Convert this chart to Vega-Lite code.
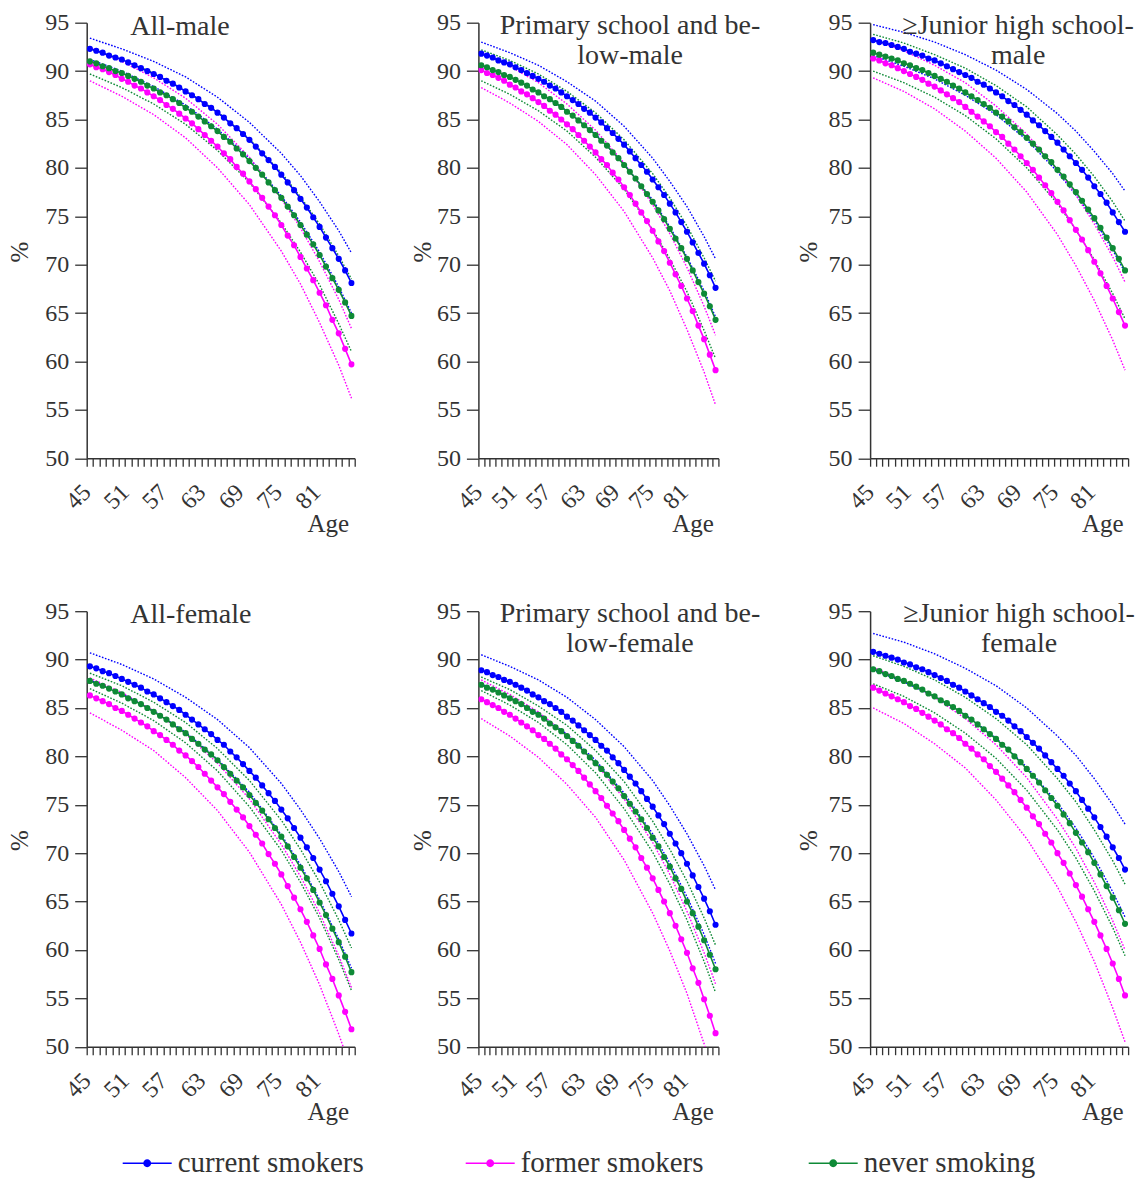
{
"$schema": "https://vega.github.io/schema/vega-lite/v6.json",
"autosize": {"type": "none"},
"padding": {"left": 86.7, "top": 22.7, "right": 1061.3, "bottom": 1155.3},
"background": "white",
"datasets": {
"est": [
{"p":1,"g":"c","a":45,"v":92.3},{"p":1,"g":"c","a":46,"v":92.1},{"p":1,"g":"c","a":47,"v":91.9},{"p":1,"g":"c","a":48,"v":91.6},{"p":1,"g":"c","a":49,"v":91.4},{"p":1,"g":"c","a":50,"v":91.2},{"p":1,"g":"c","a":51,"v":90.9},{"p":1,"g":"c","a":52,"v":90.6},{"p":1,"g":"c","a":53,"v":90.3},{"p":1,"g":"c","a":54,"v":90.0},{"p":1,"g":"c","a":55,"v":89.7},{"p":1,"g":"c","a":56,"v":89.4},{"p":1,"g":"c","a":57,"v":89.0},{"p":1,"g":"c","a":58,"v":88.7},{"p":1,"g":"c","a":59,"v":88.3},{"p":1,"g":"c","a":60,"v":87.9},{"p":1,"g":"c","a":61,"v":87.5},{"p":1,"g":"c","a":62,"v":87.1},{"p":1,"g":"c","a":63,"v":86.6},{"p":1,"g":"c","a":64,"v":86.2},{"p":1,"g":"c","a":65,"v":85.7},{"p":1,"g":"c","a":66,"v":85.2},{"p":1,"g":"c","a":67,"v":84.6},{"p":1,"g":"c","a":68,"v":84.1},{"p":1,"g":"c","a":69,"v":83.5},{"p":1,"g":"c","a":70,"v":82.9},{"p":1,"g":"c","a":71,"v":82.2},{"p":1,"g":"c","a":72,"v":81.5},{"p":1,"g":"c","a":73,"v":80.8},{"p":1,"g":"c","a":74,"v":80.1},{"p":1,"g":"c","a":75,"v":79.3},{"p":1,"g":"c","a":76,"v":78.5},{"p":1,"g":"c","a":77,"v":77.7},{"p":1,"g":"c","a":78,"v":76.8},{"p":1,"g":"c","a":79,"v":75.9},{"p":1,"g":"c","a":80,"v":74.9},{"p":1,"g":"c","a":81,"v":73.9},{"p":1,"g":"c","a":82,"v":72.8},{"p":1,"g":"c","a":83,"v":71.7},{"p":1,"g":"c","a":84,"v":70.6},{"p":1,"g":"c","a":85,"v":69.4},{"p":1,"g":"c","a":86,"v":68.1},
{"p":1,"g":"f","a":45,"v":90.7},{"p":1,"g":"f","a":46,"v":90.4},{"p":1,"g":"f","a":47,"v":90.2},{"p":1,"g":"f","a":48,"v":89.9},{"p":1,"g":"f","a":49,"v":89.6},{"p":1,"g":"f","a":50,"v":89.2},{"p":1,"g":"f","a":51,"v":88.9},{"p":1,"g":"f","a":52,"v":88.5},{"p":1,"g":"f","a":53,"v":88.2},{"p":1,"g":"f","a":54,"v":87.8},{"p":1,"g":"f","a":55,"v":87.4},{"p":1,"g":"f","a":56,"v":87.0},{"p":1,"g":"f","a":57,"v":86.5},{"p":1,"g":"f","a":58,"v":86.1},{"p":1,"g":"f","a":59,"v":85.6},{"p":1,"g":"f","a":60,"v":85.1},{"p":1,"g":"f","a":61,"v":84.6},{"p":1,"g":"f","a":62,"v":84.0},{"p":1,"g":"f","a":63,"v":83.4},{"p":1,"g":"f","a":64,"v":82.8},{"p":1,"g":"f","a":65,"v":82.2},{"p":1,"g":"f","a":66,"v":81.5},{"p":1,"g":"f","a":67,"v":80.9},{"p":1,"g":"f","a":68,"v":80.1},{"p":1,"g":"f","a":69,"v":79.4},{"p":1,"g":"f","a":70,"v":78.6},{"p":1,"g":"f","a":71,"v":77.8},{"p":1,"g":"f","a":72,"v":76.9},{"p":1,"g":"f","a":73,"v":76.0},{"p":1,"g":"f","a":74,"v":75.1},{"p":1,"g":"f","a":75,"v":74.1},{"p":1,"g":"f","a":76,"v":73.0},{"p":1,"g":"f","a":77,"v":72.0},{"p":1,"g":"f","a":78,"v":70.8},{"p":1,"g":"f","a":79,"v":69.6},{"p":1,"g":"f","a":80,"v":68.4},{"p":1,"g":"f","a":81,"v":67.1},{"p":1,"g":"f","a":82,"v":65.8},{"p":1,"g":"f","a":83,"v":64.3},{"p":1,"g":"f","a":84,"v":62.9},{"p":1,"g":"f","a":85,"v":61.3},{"p":1,"g":"f","a":86,"v":59.7},
{"p":1,"g":"n","a":45,"v":91.0},{"p":1,"g":"n","a":46,"v":90.8},{"p":1,"g":"n","a":47,"v":90.5},{"p":1,"g":"n","a":48,"v":90.3},{"p":1,"g":"n","a":49,"v":90.0},{"p":1,"g":"n","a":50,"v":89.8},{"p":1,"g":"n","a":51,"v":89.5},{"p":1,"g":"n","a":52,"v":89.2},{"p":1,"g":"n","a":53,"v":88.9},{"p":1,"g":"n","a":54,"v":88.5},{"p":1,"g":"n","a":55,"v":88.2},{"p":1,"g":"n","a":56,"v":87.8},{"p":1,"g":"n","a":57,"v":87.5},{"p":1,"g":"n","a":58,"v":87.1},{"p":1,"g":"n","a":59,"v":86.7},{"p":1,"g":"n","a":60,"v":86.2},{"p":1,"g":"n","a":61,"v":85.8},{"p":1,"g":"n","a":62,"v":85.3},{"p":1,"g":"n","a":63,"v":84.8},{"p":1,"g":"n","a":64,"v":84.3},{"p":1,"g":"n","a":65,"v":83.8},{"p":1,"g":"n","a":66,"v":83.2},{"p":1,"g":"n","a":67,"v":82.7},{"p":1,"g":"n","a":68,"v":82.0},{"p":1,"g":"n","a":69,"v":81.4},{"p":1,"g":"n","a":70,"v":80.7},{"p":1,"g":"n","a":71,"v":80.0},{"p":1,"g":"n","a":72,"v":79.3},{"p":1,"g":"n","a":73,"v":78.5},{"p":1,"g":"n","a":74,"v":77.7},{"p":1,"g":"n","a":75,"v":76.9},{"p":1,"g":"n","a":76,"v":76.0},{"p":1,"g":"n","a":77,"v":75.1},{"p":1,"g":"n","a":78,"v":74.1},{"p":1,"g":"n","a":79,"v":73.1},{"p":1,"g":"n","a":80,"v":72.1},{"p":1,"g":"n","a":81,"v":71.0},{"p":1,"g":"n","a":82,"v":69.8},{"p":1,"g":"n","a":83,"v":68.6},{"p":1,"g":"n","a":84,"v":67.4},{"p":1,"g":"n","a":85,"v":66.1},{"p":1,"g":"n","a":86,"v":64.7},
{"p":2,"g":"c","a":45,"v":91.8},{"p":2,"g":"c","a":46,"v":91.6},{"p":2,"g":"c","a":47,"v":91.4},{"p":2,"g":"c","a":48,"v":91.1},{"p":2,"g":"c","a":49,"v":90.9},{"p":2,"g":"c","a":50,"v":90.7},{"p":2,"g":"c","a":51,"v":90.4},{"p":2,"g":"c","a":52,"v":90.1},{"p":2,"g":"c","a":53,"v":89.8},{"p":2,"g":"c","a":54,"v":89.5},{"p":2,"g":"c","a":55,"v":89.2},{"p":2,"g":"c","a":56,"v":88.9},{"p":2,"g":"c","a":57,"v":88.5},{"p":2,"g":"c","a":58,"v":88.2},{"p":2,"g":"c","a":59,"v":87.8},{"p":2,"g":"c","a":60,"v":87.4},{"p":2,"g":"c","a":61,"v":87.0},{"p":2,"g":"c","a":62,"v":86.6},{"p":2,"g":"c","a":63,"v":86.1},{"p":2,"g":"c","a":64,"v":85.7},{"p":2,"g":"c","a":65,"v":85.2},{"p":2,"g":"c","a":66,"v":84.7},{"p":2,"g":"c","a":67,"v":84.1},{"p":2,"g":"c","a":68,"v":83.6},{"p":2,"g":"c","a":69,"v":83.0},{"p":2,"g":"c","a":70,"v":82.4},{"p":2,"g":"c","a":71,"v":81.7},{"p":2,"g":"c","a":72,"v":81.0},{"p":2,"g":"c","a":73,"v":80.3},{"p":2,"g":"c","a":74,"v":79.6},{"p":2,"g":"c","a":75,"v":78.8},{"p":2,"g":"c","a":76,"v":78.0},{"p":2,"g":"c","a":77,"v":77.2},{"p":2,"g":"c","a":78,"v":76.3},{"p":2,"g":"c","a":79,"v":75.4},{"p":2,"g":"c","a":80,"v":74.4},{"p":2,"g":"c","a":81,"v":73.4},{"p":2,"g":"c","a":82,"v":72.3},{"p":2,"g":"c","a":83,"v":71.2},{"p":2,"g":"c","a":84,"v":70.1},{"p":2,"g":"c","a":85,"v":68.9},{"p":2,"g":"c","a":86,"v":67.6},
{"p":2,"g":"f","a":45,"v":90.1},{"p":2,"g":"f","a":46,"v":89.8},{"p":2,"g":"f","a":47,"v":89.6},{"p":2,"g":"f","a":48,"v":89.3},{"p":2,"g":"f","a":49,"v":89.0},{"p":2,"g":"f","a":50,"v":88.6},{"p":2,"g":"f","a":51,"v":88.3},{"p":2,"g":"f","a":52,"v":87.9},{"p":2,"g":"f","a":53,"v":87.6},{"p":2,"g":"f","a":54,"v":87.2},{"p":2,"g":"f","a":55,"v":86.8},{"p":2,"g":"f","a":56,"v":86.4},{"p":2,"g":"f","a":57,"v":85.9},{"p":2,"g":"f","a":58,"v":85.5},{"p":2,"g":"f","a":59,"v":85.0},{"p":2,"g":"f","a":60,"v":84.5},{"p":2,"g":"f","a":61,"v":84.0},{"p":2,"g":"f","a":62,"v":83.4},{"p":2,"g":"f","a":63,"v":82.8},{"p":2,"g":"f","a":64,"v":82.2},{"p":2,"g":"f","a":65,"v":81.6},{"p":2,"g":"f","a":66,"v":80.9},{"p":2,"g":"f","a":67,"v":80.3},{"p":2,"g":"f","a":68,"v":79.5},{"p":2,"g":"f","a":69,"v":78.8},{"p":2,"g":"f","a":70,"v":78.0},{"p":2,"g":"f","a":71,"v":77.2},{"p":2,"g":"f","a":72,"v":76.3},{"p":2,"g":"f","a":73,"v":75.4},{"p":2,"g":"f","a":74,"v":74.5},{"p":2,"g":"f","a":75,"v":73.5},{"p":2,"g":"f","a":76,"v":72.4},{"p":2,"g":"f","a":77,"v":71.4},{"p":2,"g":"f","a":78,"v":70.2},{"p":2,"g":"f","a":79,"v":69.0},{"p":2,"g":"f","a":80,"v":67.8},{"p":2,"g":"f","a":81,"v":66.5},{"p":2,"g":"f","a":82,"v":65.2},{"p":2,"g":"f","a":83,"v":63.7},{"p":2,"g":"f","a":84,"v":62.3},{"p":2,"g":"f","a":85,"v":60.7},{"p":2,"g":"f","a":86,"v":59.1},
{"p":2,"g":"n","a":45,"v":90.6},{"p":2,"g":"n","a":46,"v":90.4},{"p":2,"g":"n","a":47,"v":90.1},{"p":2,"g":"n","a":48,"v":89.9},{"p":2,"g":"n","a":49,"v":89.6},{"p":2,"g":"n","a":50,"v":89.4},{"p":2,"g":"n","a":51,"v":89.1},{"p":2,"g":"n","a":52,"v":88.8},{"p":2,"g":"n","a":53,"v":88.5},{"p":2,"g":"n","a":54,"v":88.1},{"p":2,"g":"n","a":55,"v":87.8},{"p":2,"g":"n","a":56,"v":87.4},{"p":2,"g":"n","a":57,"v":87.1},{"p":2,"g":"n","a":58,"v":86.7},{"p":2,"g":"n","a":59,"v":86.3},{"p":2,"g":"n","a":60,"v":85.8},{"p":2,"g":"n","a":61,"v":85.4},{"p":2,"g":"n","a":62,"v":84.9},{"p":2,"g":"n","a":63,"v":84.4},{"p":2,"g":"n","a":64,"v":83.9},{"p":2,"g":"n","a":65,"v":83.4},{"p":2,"g":"n","a":66,"v":82.8},{"p":2,"g":"n","a":67,"v":82.3},{"p":2,"g":"n","a":68,"v":81.6},{"p":2,"g":"n","a":69,"v":81.0},{"p":2,"g":"n","a":70,"v":80.3},{"p":2,"g":"n","a":71,"v":79.6},{"p":2,"g":"n","a":72,"v":78.9},{"p":2,"g":"n","a":73,"v":78.1},{"p":2,"g":"n","a":74,"v":77.3},{"p":2,"g":"n","a":75,"v":76.5},{"p":2,"g":"n","a":76,"v":75.6},{"p":2,"g":"n","a":77,"v":74.7},{"p":2,"g":"n","a":78,"v":73.7},{"p":2,"g":"n","a":79,"v":72.7},{"p":2,"g":"n","a":80,"v":71.7},{"p":2,"g":"n","a":81,"v":70.6},{"p":2,"g":"n","a":82,"v":69.4},{"p":2,"g":"n","a":83,"v":68.2},{"p":2,"g":"n","a":84,"v":67.0},{"p":2,"g":"n","a":85,"v":65.7},{"p":2,"g":"n","a":86,"v":64.3},
{"p":3,"g":"c","a":45,"v":93.2},{"p":3,"g":"c","a":46,"v":93.0},{"p":3,"g":"c","a":47,"v":92.9},{"p":3,"g":"c","a":48,"v":92.7},{"p":3,"g":"c","a":49,"v":92.5},{"p":3,"g":"c","a":50,"v":92.3},{"p":3,"g":"c","a":51,"v":92.0},{"p":3,"g":"c","a":52,"v":91.8},{"p":3,"g":"c","a":53,"v":91.6},{"p":3,"g":"c","a":54,"v":91.3},{"p":3,"g":"c","a":55,"v":91.1},{"p":3,"g":"c","a":56,"v":90.8},{"p":3,"g":"c","a":57,"v":90.5},{"p":3,"g":"c","a":58,"v":90.2},{"p":3,"g":"c","a":59,"v":89.9},{"p":3,"g":"c","a":60,"v":89.6},{"p":3,"g":"c","a":61,"v":89.3},{"p":3,"g":"c","a":62,"v":88.9},{"p":3,"g":"c","a":63,"v":88.6},{"p":3,"g":"c","a":64,"v":88.2},{"p":3,"g":"c","a":65,"v":87.8},{"p":3,"g":"c","a":66,"v":87.4},{"p":3,"g":"c","a":67,"v":86.9},{"p":3,"g":"c","a":68,"v":86.5},{"p":3,"g":"c","a":69,"v":86.0},{"p":3,"g":"c","a":70,"v":85.5},{"p":3,"g":"c","a":71,"v":84.9},{"p":3,"g":"c","a":72,"v":84.4},{"p":3,"g":"c","a":73,"v":83.8},{"p":3,"g":"c","a":74,"v":83.2},{"p":3,"g":"c","a":75,"v":82.6},{"p":3,"g":"c","a":76,"v":81.9},{"p":3,"g":"c","a":77,"v":81.2},{"p":3,"g":"c","a":78,"v":80.5},{"p":3,"g":"c","a":79,"v":79.8},{"p":3,"g":"c","a":80,"v":79.0},{"p":3,"g":"c","a":81,"v":78.1},{"p":3,"g":"c","a":82,"v":77.3},{"p":3,"g":"c","a":83,"v":76.4},{"p":3,"g":"c","a":84,"v":75.4},{"p":3,"g":"c","a":85,"v":74.4},{"p":3,"g":"c","a":86,"v":73.4},
{"p":3,"g":"f","a":45,"v":91.3},{"p":3,"g":"f","a":46,"v":91.1},{"p":3,"g":"f","a":47,"v":90.8},{"p":3,"g":"f","a":48,"v":90.6},{"p":3,"g":"f","a":49,"v":90.3},{"p":3,"g":"f","a":50,"v":90.0},{"p":3,"g":"f","a":51,"v":89.7},{"p":3,"g":"f","a":52,"v":89.4},{"p":3,"g":"f","a":53,"v":89.1},{"p":3,"g":"f","a":54,"v":88.7},{"p":3,"g":"f","a":55,"v":88.4},{"p":3,"g":"f","a":56,"v":88.0},{"p":3,"g":"f","a":57,"v":87.6},{"p":3,"g":"f","a":58,"v":87.2},{"p":3,"g":"f","a":59,"v":86.8},{"p":3,"g":"f","a":60,"v":86.3},{"p":3,"g":"f","a":61,"v":85.8},{"p":3,"g":"f","a":62,"v":85.3},{"p":3,"g":"f","a":63,"v":84.8},{"p":3,"g":"f","a":64,"v":84.3},{"p":3,"g":"f","a":65,"v":83.7},{"p":3,"g":"f","a":66,"v":83.2},{"p":3,"g":"f","a":67,"v":82.5},{"p":3,"g":"f","a":68,"v":81.9},{"p":3,"g":"f","a":69,"v":81.2},{"p":3,"g":"f","a":70,"v":80.5},{"p":3,"g":"f","a":71,"v":79.8},{"p":3,"g":"f","a":72,"v":79.0},{"p":3,"g":"f","a":73,"v":78.2},{"p":3,"g":"f","a":74,"v":77.4},{"p":3,"g":"f","a":75,"v":76.5},{"p":3,"g":"f","a":76,"v":75.6},{"p":3,"g":"f","a":77,"v":74.6},{"p":3,"g":"f","a":78,"v":73.6},{"p":3,"g":"f","a":79,"v":72.6},{"p":3,"g":"f","a":80,"v":71.5},{"p":3,"g":"f","a":81,"v":70.3},{"p":3,"g":"f","a":82,"v":69.1},{"p":3,"g":"f","a":83,"v":67.8},{"p":3,"g":"f","a":84,"v":66.5},{"p":3,"g":"f","a":85,"v":65.1},{"p":3,"g":"f","a":86,"v":63.7},
{"p":3,"g":"n","a":45,"v":91.9},{"p":3,"g":"n","a":46,"v":91.7},{"p":3,"g":"n","a":47,"v":91.5},{"p":3,"g":"n","a":48,"v":91.3},{"p":3,"g":"n","a":49,"v":91.1},{"p":3,"g":"n","a":50,"v":90.8},{"p":3,"g":"n","a":51,"v":90.6},{"p":3,"g":"n","a":52,"v":90.3},{"p":3,"g":"n","a":53,"v":90.1},{"p":3,"g":"n","a":54,"v":89.8},{"p":3,"g":"n","a":55,"v":89.5},{"p":3,"g":"n","a":56,"v":89.2},{"p":3,"g":"n","a":57,"v":88.9},{"p":3,"g":"n","a":58,"v":88.5},{"p":3,"g":"n","a":59,"v":88.2},{"p":3,"g":"n","a":60,"v":87.8},{"p":3,"g":"n","a":61,"v":87.4},{"p":3,"g":"n","a":62,"v":87.0},{"p":3,"g":"n","a":63,"v":86.6},{"p":3,"g":"n","a":64,"v":86.2},{"p":3,"g":"n","a":65,"v":85.7},{"p":3,"g":"n","a":66,"v":85.3},{"p":3,"g":"n","a":67,"v":84.8},{"p":3,"g":"n","a":68,"v":84.2},{"p":3,"g":"n","a":69,"v":83.7},{"p":3,"g":"n","a":70,"v":83.1},{"p":3,"g":"n","a":71,"v":82.5},{"p":3,"g":"n","a":72,"v":81.9},{"p":3,"g":"n","a":73,"v":81.2},{"p":3,"g":"n","a":74,"v":80.6},{"p":3,"g":"n","a":75,"v":79.8},{"p":3,"g":"n","a":76,"v":79.1},{"p":3,"g":"n","a":77,"v":78.3},{"p":3,"g":"n","a":78,"v":77.5},{"p":3,"g":"n","a":79,"v":76.6},{"p":3,"g":"n","a":80,"v":75.7},{"p":3,"g":"n","a":81,"v":74.8},{"p":3,"g":"n","a":82,"v":73.8},{"p":3,"g":"n","a":83,"v":72.8},{"p":3,"g":"n","a":84,"v":71.7},{"p":3,"g":"n","a":85,"v":70.6},{"p":3,"g":"n","a":86,"v":69.4},
{"p":4,"g":"c","a":45,"v":89.3},{"p":4,"g":"c","a":46,"v":89.1},{"p":4,"g":"c","a":47,"v":88.8},{"p":4,"g":"c","a":48,"v":88.6},{"p":4,"g":"c","a":49,"v":88.3},{"p":4,"g":"c","a":50,"v":88.0},{"p":4,"g":"c","a":51,"v":87.7},{"p":4,"g":"c","a":52,"v":87.4},{"p":4,"g":"c","a":53,"v":87.1},{"p":4,"g":"c","a":54,"v":86.7},{"p":4,"g":"c","a":55,"v":86.4},{"p":4,"g":"c","a":56,"v":86.0},{"p":4,"g":"c","a":57,"v":85.6},{"p":4,"g":"c","a":58,"v":85.2},{"p":4,"g":"c","a":59,"v":84.8},{"p":4,"g":"c","a":60,"v":84.3},{"p":4,"g":"c","a":61,"v":83.8},{"p":4,"g":"c","a":62,"v":83.3},{"p":4,"g":"c","a":63,"v":82.8},{"p":4,"g":"c","a":64,"v":82.3},{"p":4,"g":"c","a":65,"v":81.7},{"p":4,"g":"c","a":66,"v":81.2},{"p":4,"g":"c","a":67,"v":80.5},{"p":4,"g":"c","a":68,"v":79.9},{"p":4,"g":"c","a":69,"v":79.2},{"p":4,"g":"c","a":70,"v":78.5},{"p":4,"g":"c","a":71,"v":77.8},{"p":4,"g":"c","a":72,"v":77.0},{"p":4,"g":"c","a":73,"v":76.2},{"p":4,"g":"c","a":74,"v":75.4},{"p":4,"g":"c","a":75,"v":74.5},{"p":4,"g":"c","a":76,"v":73.6},{"p":4,"g":"c","a":77,"v":72.6},{"p":4,"g":"c","a":78,"v":71.6},{"p":4,"g":"c","a":79,"v":70.6},{"p":4,"g":"c","a":80,"v":69.5},{"p":4,"g":"c","a":81,"v":68.3},{"p":4,"g":"c","a":82,"v":67.1},{"p":4,"g":"c","a":83,"v":65.8},{"p":4,"g":"c","a":84,"v":64.5},{"p":4,"g":"c","a":85,"v":63.1},{"p":4,"g":"c","a":86,"v":61.7},
{"p":4,"g":"f","a":45,"v":86.3},{"p":4,"g":"f","a":46,"v":86.0},{"p":4,"g":"f","a":47,"v":85.7},{"p":4,"g":"f","a":48,"v":85.4},{"p":4,"g":"f","a":49,"v":85.0},{"p":4,"g":"f","a":50,"v":84.7},{"p":4,"g":"f","a":51,"v":84.3},{"p":4,"g":"f","a":52,"v":83.9},{"p":4,"g":"f","a":53,"v":83.5},{"p":4,"g":"f","a":54,"v":83.1},{"p":4,"g":"f","a":55,"v":82.6},{"p":4,"g":"f","a":56,"v":82.2},{"p":4,"g":"f","a":57,"v":81.7},{"p":4,"g":"f","a":58,"v":81.2},{"p":4,"g":"f","a":59,"v":80.6},{"p":4,"g":"f","a":60,"v":80.1},{"p":4,"g":"f","a":61,"v":79.5},{"p":4,"g":"f","a":62,"v":78.9},{"p":4,"g":"f","a":63,"v":78.2},{"p":4,"g":"f","a":64,"v":77.5},{"p":4,"g":"f","a":65,"v":76.8},{"p":4,"g":"f","a":66,"v":76.1},{"p":4,"g":"f","a":67,"v":75.3},{"p":4,"g":"f","a":68,"v":74.5},{"p":4,"g":"f","a":69,"v":73.7},{"p":4,"g":"f","a":70,"v":72.8},{"p":4,"g":"f","a":71,"v":71.9},{"p":4,"g":"f","a":72,"v":71.0},{"p":4,"g":"f","a":73,"v":69.9},{"p":4,"g":"f","a":74,"v":68.9},{"p":4,"g":"f","a":75,"v":67.8},{"p":4,"g":"f","a":76,"v":66.6},{"p":4,"g":"f","a":77,"v":65.4},{"p":4,"g":"f","a":78,"v":64.2},{"p":4,"g":"f","a":79,"v":62.9},{"p":4,"g":"f","a":80,"v":61.5},{"p":4,"g":"f","a":81,"v":60.1},{"p":4,"g":"f","a":82,"v":58.5},{"p":4,"g":"f","a":83,"v":57.0},{"p":4,"g":"f","a":84,"v":55.3},{"p":4,"g":"f","a":85,"v":53.6},{"p":4,"g":"f","a":86,"v":51.8},
{"p":4,"g":"n","a":45,"v":87.8},{"p":4,"g":"n","a":46,"v":87.5},{"p":4,"g":"n","a":47,"v":87.3},{"p":4,"g":"n","a":48,"v":87.0},{"p":4,"g":"n","a":49,"v":86.7},{"p":4,"g":"n","a":50,"v":86.4},{"p":4,"g":"n","a":51,"v":86.0},{"p":4,"g":"n","a":52,"v":85.7},{"p":4,"g":"n","a":53,"v":85.4},{"p":4,"g":"n","a":54,"v":85.0},{"p":4,"g":"n","a":55,"v":84.6},{"p":4,"g":"n","a":56,"v":84.2},{"p":4,"g":"n","a":57,"v":83.8},{"p":4,"g":"n","a":58,"v":83.3},{"p":4,"g":"n","a":59,"v":82.8},{"p":4,"g":"n","a":60,"v":82.4},{"p":4,"g":"n","a":61,"v":81.8},{"p":4,"g":"n","a":62,"v":81.3},{"p":4,"g":"n","a":63,"v":80.7},{"p":4,"g":"n","a":64,"v":80.2},{"p":4,"g":"n","a":65,"v":79.6},{"p":4,"g":"n","a":66,"v":78.9},{"p":4,"g":"n","a":67,"v":78.2},{"p":4,"g":"n","a":68,"v":77.5},{"p":4,"g":"n","a":69,"v":76.8},{"p":4,"g":"n","a":70,"v":76.0},{"p":4,"g":"n","a":71,"v":75.2},{"p":4,"g":"n","a":72,"v":74.4},{"p":4,"g":"n","a":73,"v":73.5},{"p":4,"g":"n","a":74,"v":72.6},{"p":4,"g":"n","a":75,"v":71.7},{"p":4,"g":"n","a":76,"v":70.7},{"p":4,"g":"n","a":77,"v":69.6},{"p":4,"g":"n","a":78,"v":68.5},{"p":4,"g":"n","a":79,"v":67.4},{"p":4,"g":"n","a":80,"v":66.2},{"p":4,"g":"n","a":81,"v":64.9},{"p":4,"g":"n","a":82,"v":63.6},{"p":4,"g":"n","a":83,"v":62.2},{"p":4,"g":"n","a":84,"v":60.8},{"p":4,"g":"n","a":85,"v":59.3},{"p":4,"g":"n","a":86,"v":57.7},
{"p":5,"g":"c","a":45,"v":88.9},{"p":5,"g":"c","a":46,"v":88.7},{"p":5,"g":"c","a":47,"v":88.4},{"p":5,"g":"c","a":48,"v":88.2},{"p":5,"g":"c","a":49,"v":87.9},{"p":5,"g":"c","a":50,"v":87.7},{"p":5,"g":"c","a":51,"v":87.4},{"p":5,"g":"c","a":52,"v":87.1},{"p":5,"g":"c","a":53,"v":86.8},{"p":5,"g":"c","a":54,"v":86.4},{"p":5,"g":"c","a":55,"v":86.1},{"p":5,"g":"c","a":56,"v":85.7},{"p":5,"g":"c","a":57,"v":85.4},{"p":5,"g":"c","a":58,"v":85.0},{"p":5,"g":"c","a":59,"v":84.6},{"p":5,"g":"c","a":60,"v":84.1},{"p":5,"g":"c","a":61,"v":83.7},{"p":5,"g":"c","a":62,"v":83.2},{"p":5,"g":"c","a":63,"v":82.7},{"p":5,"g":"c","a":64,"v":82.2},{"p":5,"g":"c","a":65,"v":81.7},{"p":5,"g":"c","a":66,"v":81.1},{"p":5,"g":"c","a":67,"v":80.6},{"p":5,"g":"c","a":68,"v":79.9},{"p":5,"g":"c","a":69,"v":79.3},{"p":5,"g":"c","a":70,"v":78.6},{"p":5,"g":"c","a":71,"v":77.9},{"p":5,"g":"c","a":72,"v":77.2},{"p":5,"g":"c","a":73,"v":76.4},{"p":5,"g":"c","a":74,"v":75.6},{"p":5,"g":"c","a":75,"v":74.8},{"p":5,"g":"c","a":76,"v":73.9},{"p":5,"g":"c","a":77,"v":73.0},{"p":5,"g":"c","a":78,"v":72.0},{"p":5,"g":"c","a":79,"v":71.0},{"p":5,"g":"c","a":80,"v":70.0},{"p":5,"g":"c","a":81,"v":68.9},{"p":5,"g":"c","a":82,"v":67.7},{"p":5,"g":"c","a":83,"v":66.5},{"p":5,"g":"c","a":84,"v":65.3},{"p":5,"g":"c","a":85,"v":64.0},{"p":5,"g":"c","a":86,"v":62.6},
{"p":5,"g":"f","a":45,"v":85.9},{"p":5,"g":"f","a":46,"v":85.6},{"p":5,"g":"f","a":47,"v":85.3},{"p":5,"g":"f","a":48,"v":85.0},{"p":5,"g":"f","a":49,"v":84.6},{"p":5,"g":"f","a":50,"v":84.3},{"p":5,"g":"f","a":51,"v":83.9},{"p":5,"g":"f","a":52,"v":83.5},{"p":5,"g":"f","a":53,"v":83.1},{"p":5,"g":"f","a":54,"v":82.7},{"p":5,"g":"f","a":55,"v":82.2},{"p":5,"g":"f","a":56,"v":81.8},{"p":5,"g":"f","a":57,"v":81.3},{"p":5,"g":"f","a":58,"v":80.8},{"p":5,"g":"f","a":59,"v":80.2},{"p":5,"g":"f","a":60,"v":79.7},{"p":5,"g":"f","a":61,"v":79.1},{"p":5,"g":"f","a":62,"v":78.5},{"p":5,"g":"f","a":63,"v":77.8},{"p":5,"g":"f","a":64,"v":77.1},{"p":5,"g":"f","a":65,"v":76.4},{"p":5,"g":"f","a":66,"v":75.7},{"p":5,"g":"f","a":67,"v":74.9},{"p":5,"g":"f","a":68,"v":74.1},{"p":5,"g":"f","a":69,"v":73.3},{"p":5,"g":"f","a":70,"v":72.4},{"p":5,"g":"f","a":71,"v":71.5},{"p":5,"g":"f","a":72,"v":70.6},{"p":5,"g":"f","a":73,"v":69.5},{"p":5,"g":"f","a":74,"v":68.5},{"p":5,"g":"f","a":75,"v":67.4},{"p":5,"g":"f","a":76,"v":66.2},{"p":5,"g":"f","a":77,"v":65.0},{"p":5,"g":"f","a":78,"v":63.8},{"p":5,"g":"f","a":79,"v":62.5},{"p":5,"g":"f","a":80,"v":61.1},{"p":5,"g":"f","a":81,"v":59.7},{"p":5,"g":"f","a":82,"v":58.1},{"p":5,"g":"f","a":83,"v":56.6},{"p":5,"g":"f","a":84,"v":54.9},{"p":5,"g":"f","a":85,"v":53.2},{"p":5,"g":"f","a":86,"v":51.4},
{"p":5,"g":"n","a":45,"v":87.4},{"p":5,"g":"n","a":46,"v":87.1},{"p":5,"g":"n","a":47,"v":86.9},{"p":5,"g":"n","a":48,"v":86.6},{"p":5,"g":"n","a":49,"v":86.3},{"p":5,"g":"n","a":50,"v":86.0},{"p":5,"g":"n","a":51,"v":85.7},{"p":5,"g":"n","a":52,"v":85.4},{"p":5,"g":"n","a":53,"v":85.0},{"p":5,"g":"n","a":54,"v":84.6},{"p":5,"g":"n","a":55,"v":84.3},{"p":5,"g":"n","a":56,"v":83.9},{"p":5,"g":"n","a":57,"v":83.4},{"p":5,"g":"n","a":58,"v":83.0},{"p":5,"g":"n","a":59,"v":82.6},{"p":5,"g":"n","a":60,"v":82.1},{"p":5,"g":"n","a":61,"v":81.6},{"p":5,"g":"n","a":62,"v":81.1},{"p":5,"g":"n","a":63,"v":80.5},{"p":5,"g":"n","a":64,"v":79.9},{"p":5,"g":"n","a":65,"v":79.3},{"p":5,"g":"n","a":66,"v":78.7},{"p":5,"g":"n","a":67,"v":78.1},{"p":5,"g":"n","a":68,"v":77.4},{"p":5,"g":"n","a":69,"v":76.7},{"p":5,"g":"n","a":70,"v":75.9},{"p":5,"g":"n","a":71,"v":75.1},{"p":5,"g":"n","a":72,"v":74.3},{"p":5,"g":"n","a":73,"v":73.5},{"p":5,"g":"n","a":74,"v":72.6},{"p":5,"g":"n","a":75,"v":71.6},{"p":5,"g":"n","a":76,"v":70.7},{"p":5,"g":"n","a":77,"v":69.6},{"p":5,"g":"n","a":78,"v":68.6},{"p":5,"g":"n","a":79,"v":67.4},{"p":5,"g":"n","a":80,"v":66.3},{"p":5,"g":"n","a":81,"v":65.0},{"p":5,"g":"n","a":82,"v":63.8},{"p":5,"g":"n","a":83,"v":62.4},{"p":5,"g":"n","a":84,"v":61.0},{"p":5,"g":"n","a":85,"v":59.5},{"p":5,"g":"n","a":86,"v":58.0},
{"p":6,"g":"c","a":45,"v":90.8},{"p":6,"g":"c","a":46,"v":90.6},{"p":6,"g":"c","a":47,"v":90.4},{"p":6,"g":"c","a":48,"v":90.2},{"p":6,"g":"c","a":49,"v":90.0},{"p":6,"g":"c","a":50,"v":89.7},{"p":6,"g":"c","a":51,"v":89.5},{"p":6,"g":"c","a":52,"v":89.2},{"p":6,"g":"c","a":53,"v":89.0},{"p":6,"g":"c","a":54,"v":88.7},{"p":6,"g":"c","a":55,"v":88.4},{"p":6,"g":"c","a":56,"v":88.1},{"p":6,"g":"c","a":57,"v":87.8},{"p":6,"g":"c","a":58,"v":87.4},{"p":6,"g":"c","a":59,"v":87.1},{"p":6,"g":"c","a":60,"v":86.7},{"p":6,"g":"c","a":61,"v":86.3},{"p":6,"g":"c","a":62,"v":85.9},{"p":6,"g":"c","a":63,"v":85.5},{"p":6,"g":"c","a":64,"v":85.1},{"p":6,"g":"c","a":65,"v":84.6},{"p":6,"g":"c","a":66,"v":84.2},{"p":6,"g":"c","a":67,"v":83.7},{"p":6,"g":"c","a":68,"v":83.1},{"p":6,"g":"c","a":69,"v":82.6},{"p":6,"g":"c","a":70,"v":82.0},{"p":6,"g":"c","a":71,"v":81.4},{"p":6,"g":"c","a":72,"v":80.8},{"p":6,"g":"c","a":73,"v":80.1},{"p":6,"g":"c","a":74,"v":79.4},{"p":6,"g":"c","a":75,"v":78.7},{"p":6,"g":"c","a":76,"v":78.0},{"p":6,"g":"c","a":77,"v":77.2},{"p":6,"g":"c","a":78,"v":76.4},{"p":6,"g":"c","a":79,"v":75.5},{"p":6,"g":"c","a":80,"v":74.6},{"p":6,"g":"c","a":81,"v":73.7},{"p":6,"g":"c","a":82,"v":72.7},{"p":6,"g":"c","a":83,"v":71.7},{"p":6,"g":"c","a":84,"v":70.6},{"p":6,"g":"c","a":85,"v":69.5},{"p":6,"g":"c","a":86,"v":68.3},
{"p":6,"g":"f","a":45,"v":87.1},{"p":6,"g":"f","a":46,"v":86.8},{"p":6,"g":"f","a":47,"v":86.5},{"p":6,"g":"f","a":48,"v":86.2},{"p":6,"g":"f","a":49,"v":85.9},{"p":6,"g":"f","a":50,"v":85.6},{"p":6,"g":"f","a":51,"v":85.2},{"p":6,"g":"f","a":52,"v":84.9},{"p":6,"g":"f","a":53,"v":84.5},{"p":6,"g":"f","a":54,"v":84.1},{"p":6,"g":"f","a":55,"v":83.7},{"p":6,"g":"f","a":56,"v":83.3},{"p":6,"g":"f","a":57,"v":82.8},{"p":6,"g":"f","a":58,"v":82.4},{"p":6,"g":"f","a":59,"v":81.9},{"p":6,"g":"f","a":60,"v":81.3},{"p":6,"g":"f","a":61,"v":80.8},{"p":6,"g":"f","a":62,"v":80.2},{"p":6,"g":"f","a":63,"v":79.7},{"p":6,"g":"f","a":64,"v":79.0},{"p":6,"g":"f","a":65,"v":78.4},{"p":6,"g":"f","a":66,"v":77.7},{"p":6,"g":"f","a":67,"v":77.0},{"p":6,"g":"f","a":68,"v":76.3},{"p":6,"g":"f","a":69,"v":75.5},{"p":6,"g":"f","a":70,"v":74.7},{"p":6,"g":"f","a":71,"v":73.8},{"p":6,"g":"f","a":72,"v":73.0},{"p":6,"g":"f","a":73,"v":72.0},{"p":6,"g":"f","a":74,"v":71.1},{"p":6,"g":"f","a":75,"v":70.0},{"p":6,"g":"f","a":76,"v":69.0},{"p":6,"g":"f","a":77,"v":67.9},{"p":6,"g":"f","a":78,"v":66.7},{"p":6,"g":"f","a":79,"v":65.5},{"p":6,"g":"f","a":80,"v":64.2},{"p":6,"g":"f","a":81,"v":62.9},{"p":6,"g":"f","a":82,"v":61.5},{"p":6,"g":"f","a":83,"v":60.1},{"p":6,"g":"f","a":84,"v":58.6},{"p":6,"g":"f","a":85,"v":57.0},{"p":6,"g":"f","a":86,"v":55.3},
{"p":6,"g":"n","a":45,"v":89.0},{"p":6,"g":"n","a":46,"v":88.8},{"p":6,"g":"n","a":47,"v":88.5},{"p":6,"g":"n","a":48,"v":88.3},{"p":6,"g":"n","a":49,"v":88.0},{"p":6,"g":"n","a":50,"v":87.8},{"p":6,"g":"n","a":51,"v":87.5},{"p":6,"g":"n","a":52,"v":87.2},{"p":6,"g":"n","a":53,"v":86.9},{"p":6,"g":"n","a":54,"v":86.5},{"p":6,"g":"n","a":55,"v":86.2},{"p":6,"g":"n","a":56,"v":85.8},{"p":6,"g":"n","a":57,"v":85.5},{"p":6,"g":"n","a":58,"v":85.1},{"p":6,"g":"n","a":59,"v":84.7},{"p":6,"g":"n","a":60,"v":84.2},{"p":6,"g":"n","a":61,"v":83.8},{"p":6,"g":"n","a":62,"v":83.3},{"p":6,"g":"n","a":63,"v":82.8},{"p":6,"g":"n","a":64,"v":82.3},{"p":6,"g":"n","a":65,"v":81.8},{"p":6,"g":"n","a":66,"v":81.2},{"p":6,"g":"n","a":67,"v":80.7},{"p":6,"g":"n","a":68,"v":80.0},{"p":6,"g":"n","a":69,"v":79.4},{"p":6,"g":"n","a":70,"v":78.7},{"p":6,"g":"n","a":71,"v":78.0},{"p":6,"g":"n","a":72,"v":77.3},{"p":6,"g":"n","a":73,"v":76.5},{"p":6,"g":"n","a":74,"v":75.7},{"p":6,"g":"n","a":75,"v":74.9},{"p":6,"g":"n","a":76,"v":74.0},{"p":6,"g":"n","a":77,"v":73.1},{"p":6,"g":"n","a":78,"v":72.1},{"p":6,"g":"n","a":79,"v":71.1},{"p":6,"g":"n","a":80,"v":70.1},{"p":6,"g":"n","a":81,"v":69.0},{"p":6,"g":"n","a":82,"v":67.8},{"p":6,"g":"n","a":83,"v":66.6},{"p":6,"g":"n","a":84,"v":65.4},{"p":6,"g":"n","a":85,"v":64.1},{"p":6,"g":"n","a":86,"v":62.7}
],
"ci": [
{"p":1,"g":"c","a":45,"lo":91.2,"hi":93.4},{"p":1,"g":"c","a":50,"lo":90.0,"hi":92.3},{"p":1,"g":"c","a":55,"lo":88.4,"hi":91.0},{"p":1,"g":"c","a":60,"lo":86.5,"hi":89.4},{"p":1,"g":"c","a":65,"lo":84.0,"hi":87.3},{"p":1,"g":"c","a":70,"lo":81.0,"hi":84.7},{"p":1,"g":"c","a":75,"lo":77.1,"hi":81.5},{"p":1,"g":"c","a":78,"lo":74.4,"hi":79.2},{"p":1,"g":"c","a":81,"lo":71.3,"hi":76.5},{"p":1,"g":"c","a":84,"lo":67.7,"hi":73.5},{"p":1,"g":"c","a":86,"lo":65.0,"hi":71.2},
{"p":1,"g":"f","a":45,"lo":89.0,"hi":92.4},{"p":1,"g":"f","a":50,"lo":87.4,"hi":91.0},{"p":1,"g":"f","a":55,"lo":85.5,"hi":89.3},{"p":1,"g":"f","a":60,"lo":83.1,"hi":87.2},{"p":1,"g":"f","a":65,"lo":80.0,"hi":84.5},{"p":1,"g":"f","a":70,"lo":76.2,"hi":81.1},{"p":1,"g":"f","a":75,"lo":71.4,"hi":76.8},{"p":1,"g":"f","a":78,"lo":68.0,"hi":73.8},{"p":1,"g":"f","a":81,"lo":64.0,"hi":70.3},{"p":1,"g":"f","a":84,"lo":59.6,"hi":66.4},{"p":1,"g":"f","a":86,"lo":56.2,"hi":63.4},
{"p":1,"g":"n","a":45,"lo":89.7,"hi":92.3},{"p":1,"g":"n","a":50,"lo":88.3,"hi":91.2},{"p":1,"g":"n","a":55,"lo":86.6,"hi":89.8},{"p":1,"g":"n","a":60,"lo":84.5,"hi":88.0},{"p":1,"g":"n","a":65,"lo":81.8,"hi":85.8},{"p":1,"g":"n","a":70,"lo":78.5,"hi":83.0},{"p":1,"g":"n","a":75,"lo":74.3,"hi":79.5},{"p":1,"g":"n","a":78,"lo":71.3,"hi":77.0},{"p":1,"g":"n","a":81,"lo":67.9,"hi":74.2},{"p":1,"g":"n","a":84,"lo":63.9,"hi":70.9},{"p":1,"g":"n","a":86,"lo":61.0,"hi":68.5},
{"p":2,"g":"c","a":45,"lo":90.6,"hi":93.0},{"p":2,"g":"c","a":50,"lo":89.4,"hi":91.9},{"p":2,"g":"c","a":55,"lo":87.8,"hi":90.6},{"p":2,"g":"c","a":60,"lo":85.9,"hi":88.9},{"p":2,"g":"c","a":65,"lo":83.5,"hi":86.9},{"p":2,"g":"c","a":70,"lo":80.4,"hi":84.3},{"p":2,"g":"c","a":75,"lo":76.7,"hi":81.0},{"p":2,"g":"c","a":78,"lo":73.9,"hi":78.6},{"p":2,"g":"c","a":81,"lo":70.8,"hi":76.0},{"p":2,"g":"c","a":84,"lo":67.3,"hi":72.9},{"p":2,"g":"c","a":86,"lo":64.6,"hi":70.6},
{"p":2,"g":"f","a":45,"lo":88.3,"hi":91.9},{"p":2,"g":"f","a":50,"lo":86.7,"hi":90.5},{"p":2,"g":"f","a":55,"lo":84.8,"hi":88.8},{"p":2,"g":"f","a":60,"lo":82.4,"hi":86.6},{"p":2,"g":"f","a":65,"lo":79.3,"hi":83.9},{"p":2,"g":"f","a":70,"lo":75.5,"hi":80.5},{"p":2,"g":"f","a":75,"lo":70.7,"hi":76.2},{"p":2,"g":"f","a":78,"lo":67.3,"hi":73.2},{"p":2,"g":"f","a":81,"lo":63.3,"hi":69.7},{"p":2,"g":"f","a":84,"lo":58.9,"hi":65.7},{"p":2,"g":"f","a":86,"lo":55.5,"hi":62.7},
{"p":2,"g":"n","a":45,"lo":89.0,"hi":92.2},{"p":2,"g":"n","a":50,"lo":87.6,"hi":91.1},{"p":2,"g":"n","a":55,"lo":85.9,"hi":89.7},{"p":2,"g":"n","a":60,"lo":83.8,"hi":87.9},{"p":2,"g":"n","a":65,"lo":81.1,"hi":85.7},{"p":2,"g":"n","a":70,"lo":77.8,"hi":82.9},{"p":2,"g":"n","a":75,"lo":73.6,"hi":79.4},{"p":2,"g":"n","a":78,"lo":70.6,"hi":76.9},{"p":2,"g":"n","a":81,"lo":67.2,"hi":74.0},{"p":2,"g":"n","a":84,"lo":63.2,"hi":70.7},{"p":2,"g":"n","a":86,"lo":60.3,"hi":68.3},
{"p":3,"g":"c","a":45,"lo":91.6,"hi":94.8},{"p":3,"g":"c","a":50,"lo":90.5,"hi":94.0},{"p":3,"g":"c","a":55,"lo":89.2,"hi":93.0},{"p":3,"g":"c","a":60,"lo":87.5,"hi":91.7},{"p":3,"g":"c","a":65,"lo":85.5,"hi":90.1},{"p":3,"g":"c","a":70,"lo":82.9,"hi":88.1},{"p":3,"g":"c","a":75,"lo":79.6,"hi":85.6},{"p":3,"g":"c","a":78,"lo":77.2,"hi":83.8},{"p":3,"g":"c","a":81,"lo":74.6,"hi":81.7},{"p":3,"g":"c","a":84,"lo":71.5,"hi":79.4},{"p":3,"g":"c","a":86,"lo":69.2,"hi":77.6},
{"p":3,"g":"f","a":45,"lo":89.3,"hi":93.3},{"p":3,"g":"f","a":50,"lo":87.9,"hi":92.1},{"p":3,"g":"f","a":55,"lo":86.1,"hi":90.6},{"p":3,"g":"f","a":60,"lo":83.8,"hi":88.8},{"p":3,"g":"f","a":65,"lo":81.0,"hi":86.4},{"p":3,"g":"f","a":70,"lo":77.5,"hi":83.5},{"p":3,"g":"f","a":75,"lo":73.1,"hi":79.8},{"p":3,"g":"f","a":78,"lo":69.9,"hi":77.2},{"p":3,"g":"f","a":81,"lo":66.3,"hi":74.2},{"p":3,"g":"f","a":84,"lo":62.2,"hi":70.8},{"p":3,"g":"f","a":86,"lo":59.1,"hi":68.2},
{"p":3,"g":"n","a":45,"lo":90.0,"hi":93.8},{"p":3,"g":"n","a":50,"lo":88.8,"hi":92.9},{"p":3,"g":"n","a":55,"lo":87.3,"hi":91.7},{"p":3,"g":"n","a":60,"lo":85.4,"hi":90.3},{"p":3,"g":"n","a":65,"lo":83.0,"hi":88.5},{"p":3,"g":"n","a":70,"lo":80.0,"hi":86.3},{"p":3,"g":"n","a":75,"lo":76.3,"hi":83.4},{"p":3,"g":"n","a":78,"lo":73.6,"hi":81.4},{"p":3,"g":"n","a":81,"lo":70.5,"hi":79.1},{"p":3,"g":"n","a":84,"lo":67.0,"hi":76.5},{"p":3,"g":"n","a":86,"lo":64.4,"hi":74.5},
{"p":4,"g":"c","a":45,"lo":87.9,"hi":90.7},{"p":4,"g":"c","a":50,"lo":86.5,"hi":89.5},{"p":4,"g":"c","a":55,"lo":84.7,"hi":88.0},{"p":4,"g":"c","a":60,"lo":82.5,"hi":86.1},{"p":4,"g":"c","a":65,"lo":79.7,"hi":83.8},{"p":4,"g":"c","a":70,"lo":76.3,"hi":80.9},{"p":4,"g":"c","a":75,"lo":71.9,"hi":77.2},{"p":4,"g":"c","a":78,"lo":68.8,"hi":74.5},{"p":4,"g":"c","a":81,"lo":65.2,"hi":71.5},{"p":4,"g":"c","a":84,"lo":61.1,"hi":68.1},{"p":4,"g":"c","a":86,"lo":58.1,"hi":65.5},
{"p":4,"g":"f","a":45,"lo":84.5,"hi":88.1},{"p":4,"g":"f","a":50,"lo":82.7,"hi":86.6},{"p":4,"g":"f","a":55,"lo":80.6,"hi":84.7},{"p":4,"g":"f","a":60,"lo":77.8,"hi":82.3},{"p":4,"g":"f","a":65,"lo":74.4,"hi":79.3},{"p":4,"g":"f","a":70,"lo":70.1,"hi":75.6},{"p":4,"g":"f","a":75,"lo":64.7,"hi":70.9},{"p":4,"g":"f","a":78,"lo":60.8,"hi":67.6},{"p":4,"g":"f","a":81,"lo":56.4,"hi":63.8},{"p":4,"g":"f","a":84,"lo":51.3,"hi":59.4},{"p":4,"g":"f","a":86,"lo":47.5,"hi":56.1},
{"p":4,"g":"n","a":45,"lo":87.0,"hi":88.6},{"p":4,"g":"n","a":50,"lo":85.5,"hi":87.3},{"p":4,"g":"n","a":55,"lo":83.7,"hi":85.6},{"p":4,"g":"n","a":60,"lo":81.4,"hi":83.5},{"p":4,"g":"n","a":65,"lo":78.5,"hi":80.8},{"p":4,"g":"n","a":70,"lo":74.8,"hi":77.5},{"p":4,"g":"n","a":75,"lo":70.3,"hi":73.4},{"p":4,"g":"n","a":78,"lo":67.0,"hi":70.4},{"p":4,"g":"n","a":81,"lo":63.3,"hi":67.0},{"p":4,"g":"n","a":84,"lo":59.0,"hi":63.1},{"p":4,"g":"n","a":86,"lo":55.8,"hi":60.2},
{"p":5,"g":"c","a":45,"lo":87.5,"hi":90.5},{"p":5,"g":"c","a":50,"lo":86.1,"hi":89.3},{"p":5,"g":"c","a":55,"lo":84.4,"hi":87.9},{"p":5,"g":"c","a":60,"lo":82.3,"hi":86.1},{"p":5,"g":"c","a":65,"lo":79.6,"hi":83.8},{"p":5,"g":"c","a":70,"lo":76.2,"hi":81.0},{"p":5,"g":"c","a":75,"lo":72.0,"hi":77.5},{"p":5,"g":"c","a":78,"lo":69.0,"hi":74.9},{"p":5,"g":"c","a":81,"lo":65.5,"hi":72.0},{"p":5,"g":"c","a":84,"lo":61.6,"hi":68.7},{"p":5,"g":"c","a":86,"lo":58.6,"hi":66.2},
{"p":5,"g":"f","a":45,"lo":83.9,"hi":87.9},{"p":5,"g":"f","a":50,"lo":82.1,"hi":86.4},{"p":5,"g":"f","a":55,"lo":79.9,"hi":84.6},{"p":5,"g":"f","a":60,"lo":77.1,"hi":82.2},{"p":5,"g":"f","a":65,"lo":73.7,"hi":79.3},{"p":5,"g":"f","a":70,"lo":69.3,"hi":75.6},{"p":5,"g":"f","a":75,"lo":63.8,"hi":71.1},{"p":5,"g":"f","a":78,"lo":59.9,"hi":67.8},{"p":5,"g":"f","a":81,"lo":55.5,"hi":64.0},{"p":5,"g":"f","a":84,"lo":50.3,"hi":59.7},{"p":5,"g":"f","a":86,"lo":46.5,"hi":56.5},
{"p":5,"g":"n","a":45,"lo":86.8,"hi":88.2},{"p":5,"g":"n","a":50,"lo":85.3,"hi":86.9},{"p":5,"g":"n","a":55,"lo":83.5,"hi":85.2},{"p":5,"g":"n","a":60,"lo":81.2,"hi":83.2},{"p":5,"g":"n","a":65,"lo":78.3,"hi":80.6},{"p":5,"g":"n","a":70,"lo":74.6,"hi":77.4},{"p":5,"g":"n","a":75,"lo":70.1,"hi":73.3},{"p":5,"g":"n","a":78,"lo":66.8,"hi":70.4},{"p":5,"g":"n","a":81,"lo":63.1,"hi":67.1},{"p":5,"g":"n","a":84,"lo":58.8,"hi":63.3},{"p":5,"g":"n","a":86,"lo":55.6,"hi":60.5},
{"p":6,"g":"c","a":45,"lo":88.9,"hi":92.7},{"p":6,"g":"c","a":50,"lo":87.7,"hi":91.8},{"p":6,"g":"c","a":55,"lo":86.2,"hi":90.6},{"p":6,"g":"c","a":60,"lo":84.3,"hi":89.1},{"p":6,"g":"c","a":65,"lo":81.9,"hi":87.3},{"p":6,"g":"c","a":70,"lo":78.9,"hi":85.0},{"p":6,"g":"c","a":75,"lo":75.2,"hi":82.1},{"p":6,"g":"c","a":78,"lo":72.6,"hi":80.1},{"p":6,"g":"c","a":81,"lo":69.5,"hi":77.7},{"p":6,"g":"c","a":84,"lo":66.0,"hi":75.0},{"p":6,"g":"c","a":86,"lo":63.4,"hi":73.0},
{"p":6,"g":"f","a":45,"lo":85.0,"hi":89.2},{"p":6,"g":"f","a":50,"lo":83.4,"hi":87.8},{"p":6,"g":"f","a":55,"lo":81.3,"hi":86.1},{"p":6,"g":"f","a":60,"lo":78.8,"hi":83.9},{"p":6,"g":"f","a":65,"lo":75.5,"hi":81.2},{"p":6,"g":"f","a":70,"lo":71.5,"hi":77.8},{"p":6,"g":"f","a":75,"lo":66.5,"hi":73.5},{"p":6,"g":"f","a":78,"lo":62.9,"hi":70.5},{"p":6,"g":"f","a":81,"lo":58.8,"hi":67.0},{"p":6,"g":"f","a":84,"lo":54.0,"hi":63.0},{"p":6,"g":"f","a":86,"lo":50.5,"hi":60.0},
{"p":6,"g":"n","a":45,"lo":87.5,"hi":90.4},{"p":6,"g":"n","a":50,"lo":86.2,"hi":89.3},{"p":6,"g":"n","a":55,"lo":84.5,"hi":87.9},{"p":6,"g":"n","a":60,"lo":82.4,"hi":86.1},{"p":6,"g":"n","a":65,"lo":79.8,"hi":83.9},{"p":6,"g":"n","a":70,"lo":76.5,"hi":81.2},{"p":6,"g":"n","a":75,"lo":72.4,"hi":77.7},{"p":6,"g":"n","a":78,"lo":69.5,"hi":75.3},{"p":6,"g":"n","a":81,"lo":66.1,"hi":72.4},{"p":6,"g":"n","a":84,"lo":62.3,"hi":69.2},{"p":6,"g":"n","a":86,"lo":59.4,"hi":66.8}
]
},
"columns": 3,
"spacing": {"row": 152.5, "column": 106.7},
"bounds": "flush",
"align": "all",
"resolve": {"scale": {"color": "shared"}, "legend": {"color": "shared"}},
"concat": [
  {"width": 268, "height": 435.5,
   "title": {"text": "All-male", "anchor": "start", "dx": 43.5, "dy": 33.8},
   "encoding": {"x": {"field": "a", "type": "quantitative", "scale": {"domain": [44.5, 86.5], "nice": false, "zero": false}, "axis": {"title": "Age", "titleX": 262, "values": [44.5,45.5,46.5,47.5,48.5,49.5,50.5,51.5,52.5,53.5,54.5,55.5,56.5,57.5,58.5,59.5,60.5,61.5,62.5,63.5,64.5,65.5,66.5,67.5,68.5,69.5,70.5,71.5,72.5,73.5,74.5,75.5,76.5,77.5,78.5,79.5,80.5,81.5,82.5,83.5,84.5,85.5,86.5]}}},
   "layer": [
    {"data": {"name": "ci"}, "transform": [{"filter": "datum.p == 1"}], "mark": {"type": "line", "strokeDash": [1.6, 1.6], "strokeWidth": 1.4, "clip": true},
     "encoding": {"y": {"field": "lo", "type": "quantitative", "scale": {"domain": [50, 95], "nice": false, "zero": false}, "axis": {"title": "%", "titleX": -67, "values": [50,55,60,65,70,75,80,85,90,95]}},
      "color": {"field": "g", "type": "nominal", "scale": {"domain": ["c","f","n"], "range": ["#0000ff","#ff00ff","#0e8a36"]}}}},
    {"data": {"name": "ci"}, "transform": [{"filter": "datum.p == 1"}], "mark": {"type": "line", "strokeDash": [1.6, 1.6], "strokeWidth": 1.4, "clip": true},
     "encoding": {"y": {"field": "hi", "type": "quantitative", "scale": {"domain": [50, 95], "nice": false, "zero": false}, "axis": {"title": "%", "titleX": -67, "values": [50,55,60,65,70,75,80,85,90,95]}},
      "color": {"field": "g", "type": "nominal", "scale": {"domain": ["c","f","n"], "range": ["#0000ff","#ff00ff","#0e8a36"]}}}},
    {"data": {"name": "est"}, "transform": [{"filter": "datum.p == 1"}], "mark": {"type": "line", "strokeWidth": 1.6, "clip": true},
     "encoding": {"y": {"field": "v", "type": "quantitative", "scale": {"domain": [50, 95], "nice": false, "zero": false}, "axis": {"title": "%", "titleX": -67, "values": [50,55,60,65,70,75,80,85,90,95]}},
      "color": {"field": "g", "type": "nominal", "scale": {"domain": ["c","f","n"], "range": ["#0000ff","#ff00ff","#0e8a36"]},
        "legend": {"title": null, "orient": "none", "legendX": 35, "legendY": 1114.8, "direction": "horizontal", "columns": 3, "gridAlign": "all", "columnPadding": 98, "padding": 0,
          "symbolType": "M-1,0H1M0.13,0A0.13,0.13,0,1,1,-0.13,0A0.13,0.13,0,1,1,0.13,0Z", "symbolSize": 2401, "symbolStrokeWidth": 1.5,
          "labelFont": "Liberation Serif", "labelFontSize": 29, "labelColor": "#333333", "labelOffset": 5, "labelLimit": 400,
          "labelExpr": "datum.label == 'c' ? 'current smokers' : datum.label == 'f' ? 'former smokers' : 'never smoking'",
          "encode": {"symbols": {"update": {"fill": {"scale": "color", "field": "value"}, "stroke": {"scale": "color", "field": "value"}}}}}}}},
    {"data": {"name": "est"}, "transform": [{"filter": "datum.p == 1"}], "mark": {"type": "circle", "size": 38, "opacity": 1, "clip": true},
     "encoding": {"y": {"field": "v", "type": "quantitative", "scale": {"domain": [50, 95], "nice": false, "zero": false}, "axis": {"title": "%", "titleX": -67, "values": [50,55,60,65,70,75,80,85,90,95]}},
      "color": {"field": "g", "type": "nominal", "scale": {"domain": ["c","f","n"], "range": ["#0000ff","#ff00ff","#0e8a36"]}}}}
   ]},
  {"width": 284.9, "height": 435.5,
   "title": {"text": ["Primary school and be-", "low-male"], "anchor": "middle", "dx": 9.2, "dy": 62.8},
   "encoding": {"x": {"field": "a", "type": "quantitative", "scale": {"domain": [44.5, 86.5], "nice": false, "zero": false, "range": [0, 240]}, "axis": {"title": "Age", "titleX": 235, "values": [44.5,45.5,46.5,47.5,48.5,49.5,50.5,51.5,52.5,53.5,54.5,55.5,56.5,57.5,58.5,59.5,60.5,61.5,62.5,63.5,64.5,65.5,66.5,67.5,68.5,69.5,70.5,71.5,72.5,73.5,74.5,75.5,76.5,77.5,78.5,79.5,80.5,81.5,82.5,83.5,84.5,85.5,86.5]}}},
   "layer": [
    {"data": {"name": "ci"}, "transform": [{"filter": "datum.p == 2"}], "mark": {"type": "line", "strokeDash": [1.6, 1.6], "strokeWidth": 1.4, "clip": true},
     "encoding": {"y": {"field": "lo", "type": "quantitative", "scale": {"domain": [50, 95], "nice": false, "zero": false}, "axis": {"title": "%", "titleX": -56, "values": [50,55,60,65,70,75,80,85,90,95]}},
      "color": {"field": "g", "type": "nominal", "scale": {"domain": ["c","f","n"], "range": ["#0000ff","#ff00ff","#0e8a36"]}}}},
    {"data": {"name": "ci"}, "transform": [{"filter": "datum.p == 2"}], "mark": {"type": "line", "strokeDash": [1.6, 1.6], "strokeWidth": 1.4, "clip": true},
     "encoding": {"y": {"field": "hi", "type": "quantitative", "scale": {"domain": [50, 95], "nice": false, "zero": false}, "axis": {"title": "%", "titleX": -56, "values": [50,55,60,65,70,75,80,85,90,95]}},
      "color": {"field": "g", "type": "nominal", "scale": {"domain": ["c","f","n"], "range": ["#0000ff","#ff00ff","#0e8a36"]}}}},
    {"data": {"name": "est"}, "transform": [{"filter": "datum.p == 2"}], "mark": {"type": "line", "strokeWidth": 1.6, "clip": true},
     "encoding": {"y": {"field": "v", "type": "quantitative", "scale": {"domain": [50, 95], "nice": false, "zero": false}, "axis": {"title": "%", "titleX": -56, "values": [50,55,60,65,70,75,80,85,90,95]}},
      "color": {"field": "g", "type": "nominal", "scale": {"domain": ["c","f","n"], "range": ["#0000ff","#ff00ff","#0e8a36"]}}}},
    {"data": {"name": "est"}, "transform": [{"filter": "datum.p == 2"}], "mark": {"type": "circle", "size": 38, "opacity": 1, "clip": true},
     "encoding": {"y": {"field": "v", "type": "quantitative", "scale": {"domain": [50, 95], "nice": false, "zero": false}, "axis": {"title": "%", "titleX": -56, "values": [50,55,60,65,70,75,80,85,90,95]}},
      "color": {"field": "g", "type": "nominal", "scale": {"domain": ["c","f","n"], "range": ["#0000ff","#ff00ff","#0e8a36"]}}}}
   ]},
  {"width": 258, "height": 435.5,
   "title": {"text": ["≥Junior high school-", "male"], "anchor": "middle", "dx": 19, "dy": 62.8},
   "encoding": {"x": {"field": "a", "type": "quantitative", "scale": {"domain": [44.5, 86.5], "nice": false, "zero": false}, "axis": {"title": "Age", "titleX": 253, "values": [44.5,45.5,46.5,47.5,48.5,49.5,50.5,51.5,52.5,53.5,54.5,55.5,56.5,57.5,58.5,59.5,60.5,61.5,62.5,63.5,64.5,65.5,66.5,67.5,68.5,69.5,70.5,71.5,72.5,73.5,74.5,75.5,76.5,77.5,78.5,79.5,80.5,81.5,82.5,83.5,84.5,85.5,86.5]}}},
   "layer": [
    {"data": {"name": "ci"}, "transform": [{"filter": "datum.p == 3"}], "mark": {"type": "line", "strokeDash": [1.6, 1.6], "strokeWidth": 1.4, "clip": true},
     "encoding": {"y": {"field": "lo", "type": "quantitative", "scale": {"domain": [50, 95], "nice": false, "zero": false}, "axis": {"title": "%", "titleX": -62, "values": [50,55,60,65,70,75,80,85,90,95]}},
      "color": {"field": "g", "type": "nominal", "scale": {"domain": ["c","f","n"], "range": ["#0000ff","#ff00ff","#0e8a36"]}}}},
    {"data": {"name": "ci"}, "transform": [{"filter": "datum.p == 3"}], "mark": {"type": "line", "strokeDash": [1.6, 1.6], "strokeWidth": 1.4, "clip": true},
     "encoding": {"y": {"field": "hi", "type": "quantitative", "scale": {"domain": [50, 95], "nice": false, "zero": false}, "axis": {"title": "%", "titleX": -62, "values": [50,55,60,65,70,75,80,85,90,95]}},
      "color": {"field": "g", "type": "nominal", "scale": {"domain": ["c","f","n"], "range": ["#0000ff","#ff00ff","#0e8a36"]}}}},
    {"data": {"name": "est"}, "transform": [{"filter": "datum.p == 3"}], "mark": {"type": "line", "strokeWidth": 1.6, "clip": true},
     "encoding": {"y": {"field": "v", "type": "quantitative", "scale": {"domain": [50, 95], "nice": false, "zero": false}, "axis": {"title": "%", "titleX": -62, "values": [50,55,60,65,70,75,80,85,90,95]}},
      "color": {"field": "g", "type": "nominal", "scale": {"domain": ["c","f","n"], "range": ["#0000ff","#ff00ff","#0e8a36"]}}}},
    {"data": {"name": "est"}, "transform": [{"filter": "datum.p == 3"}], "mark": {"type": "circle", "size": 38, "opacity": 1, "clip": true},
     "encoding": {"y": {"field": "v", "type": "quantitative", "scale": {"domain": [50, 95], "nice": false, "zero": false}, "axis": {"title": "%", "titleX": -62, "values": [50,55,60,65,70,75,80,85,90,95]}},
      "color": {"field": "g", "type": "nominal", "scale": {"domain": ["c","f","n"], "range": ["#0000ff","#ff00ff","#0e8a36"]}}}}
   ]},
  {"width": 268, "height": 435.5,
   "title": {"text": "All-female", "anchor": "start", "dx": 43.5, "dy": 33.8},
   "encoding": {"x": {"field": "a", "type": "quantitative", "scale": {"domain": [44.5, 86.5], "nice": false, "zero": false}, "axis": {"title": "Age", "titleX": 262, "values": [44.5,45.5,46.5,47.5,48.5,49.5,50.5,51.5,52.5,53.5,54.5,55.5,56.5,57.5,58.5,59.5,60.5,61.5,62.5,63.5,64.5,65.5,66.5,67.5,68.5,69.5,70.5,71.5,72.5,73.5,74.5,75.5,76.5,77.5,78.5,79.5,80.5,81.5,82.5,83.5,84.5,85.5,86.5]}}},
   "layer": [
    {"data": {"name": "ci"}, "transform": [{"filter": "datum.p == 4"}], "mark": {"type": "line", "strokeDash": [1.6, 1.6], "strokeWidth": 1.4, "clip": true},
     "encoding": {"y": {"field": "lo", "type": "quantitative", "scale": {"domain": [50, 95], "nice": false, "zero": false}, "axis": {"title": "%", "titleX": -67, "values": [50,55,60,65,70,75,80,85,90,95]}},
      "color": {"field": "g", "type": "nominal", "scale": {"domain": ["c","f","n"], "range": ["#0000ff","#ff00ff","#0e8a36"]}}}},
    {"data": {"name": "ci"}, "transform": [{"filter": "datum.p == 4"}], "mark": {"type": "line", "strokeDash": [1.6, 1.6], "strokeWidth": 1.4, "clip": true},
     "encoding": {"y": {"field": "hi", "type": "quantitative", "scale": {"domain": [50, 95], "nice": false, "zero": false}, "axis": {"title": "%", "titleX": -67, "values": [50,55,60,65,70,75,80,85,90,95]}},
      "color": {"field": "g", "type": "nominal", "scale": {"domain": ["c","f","n"], "range": ["#0000ff","#ff00ff","#0e8a36"]}}}},
    {"data": {"name": "est"}, "transform": [{"filter": "datum.p == 4"}], "mark": {"type": "line", "strokeWidth": 1.6, "clip": true},
     "encoding": {"y": {"field": "v", "type": "quantitative", "scale": {"domain": [50, 95], "nice": false, "zero": false}, "axis": {"title": "%", "titleX": -67, "values": [50,55,60,65,70,75,80,85,90,95]}},
      "color": {"field": "g", "type": "nominal", "scale": {"domain": ["c","f","n"], "range": ["#0000ff","#ff00ff","#0e8a36"]}}}},
    {"data": {"name": "est"}, "transform": [{"filter": "datum.p == 4"}], "mark": {"type": "circle", "size": 38, "opacity": 1, "clip": true},
     "encoding": {"y": {"field": "v", "type": "quantitative", "scale": {"domain": [50, 95], "nice": false, "zero": false}, "axis": {"title": "%", "titleX": -67, "values": [50,55,60,65,70,75,80,85,90,95]}},
      "color": {"field": "g", "type": "nominal", "scale": {"domain": ["c","f","n"], "range": ["#0000ff","#ff00ff","#0e8a36"]}}}}
   ]},
  {"width": 284.9, "height": 435.5,
   "title": {"text": ["Primary school and be-", "low-female"], "anchor": "middle", "dx": 9.2, "dy": 62.8},
   "encoding": {"x": {"field": "a", "type": "quantitative", "scale": {"domain": [44.5, 86.5], "nice": false, "zero": false, "range": [0, 240]}, "axis": {"title": "Age", "titleX": 235, "values": [44.5,45.5,46.5,47.5,48.5,49.5,50.5,51.5,52.5,53.5,54.5,55.5,56.5,57.5,58.5,59.5,60.5,61.5,62.5,63.5,64.5,65.5,66.5,67.5,68.5,69.5,70.5,71.5,72.5,73.5,74.5,75.5,76.5,77.5,78.5,79.5,80.5,81.5,82.5,83.5,84.5,85.5,86.5]}}},
   "layer": [
    {"data": {"name": "ci"}, "transform": [{"filter": "datum.p == 5"}], "mark": {"type": "line", "strokeDash": [1.6, 1.6], "strokeWidth": 1.4, "clip": true},
     "encoding": {"y": {"field": "lo", "type": "quantitative", "scale": {"domain": [50, 95], "nice": false, "zero": false}, "axis": {"title": "%", "titleX": -56, "values": [50,55,60,65,70,75,80,85,90,95]}},
      "color": {"field": "g", "type": "nominal", "scale": {"domain": ["c","f","n"], "range": ["#0000ff","#ff00ff","#0e8a36"]}}}},
    {"data": {"name": "ci"}, "transform": [{"filter": "datum.p == 5"}], "mark": {"type": "line", "strokeDash": [1.6, 1.6], "strokeWidth": 1.4, "clip": true},
     "encoding": {"y": {"field": "hi", "type": "quantitative", "scale": {"domain": [50, 95], "nice": false, "zero": false}, "axis": {"title": "%", "titleX": -56, "values": [50,55,60,65,70,75,80,85,90,95]}},
      "color": {"field": "g", "type": "nominal", "scale": {"domain": ["c","f","n"], "range": ["#0000ff","#ff00ff","#0e8a36"]}}}},
    {"data": {"name": "est"}, "transform": [{"filter": "datum.p == 5"}], "mark": {"type": "line", "strokeWidth": 1.6, "clip": true},
     "encoding": {"y": {"field": "v", "type": "quantitative", "scale": {"domain": [50, 95], "nice": false, "zero": false}, "axis": {"title": "%", "titleX": -56, "values": [50,55,60,65,70,75,80,85,90,95]}},
      "color": {"field": "g", "type": "nominal", "scale": {"domain": ["c","f","n"], "range": ["#0000ff","#ff00ff","#0e8a36"]}}}},
    {"data": {"name": "est"}, "transform": [{"filter": "datum.p == 5"}], "mark": {"type": "circle", "size": 38, "opacity": 1, "clip": true},
     "encoding": {"y": {"field": "v", "type": "quantitative", "scale": {"domain": [50, 95], "nice": false, "zero": false}, "axis": {"title": "%", "titleX": -56, "values": [50,55,60,65,70,75,80,85,90,95]}},
      "color": {"field": "g", "type": "nominal", "scale": {"domain": ["c","f","n"], "range": ["#0000ff","#ff00ff","#0e8a36"]}}}}
   ]},
  {"width": 258, "height": 435.5,
   "title": {"text": ["≥Junior high school-", "female"], "anchor": "middle", "dx": 20, "dy": 62.8},
   "encoding": {"x": {"field": "a", "type": "quantitative", "scale": {"domain": [44.5, 86.5], "nice": false, "zero": false}, "axis": {"title": "Age", "titleX": 253, "values": [44.5,45.5,46.5,47.5,48.5,49.5,50.5,51.5,52.5,53.5,54.5,55.5,56.5,57.5,58.5,59.5,60.5,61.5,62.5,63.5,64.5,65.5,66.5,67.5,68.5,69.5,70.5,71.5,72.5,73.5,74.5,75.5,76.5,77.5,78.5,79.5,80.5,81.5,82.5,83.5,84.5,85.5,86.5]}}},
   "layer": [
    {"data": {"name": "ci"}, "transform": [{"filter": "datum.p == 6"}], "mark": {"type": "line", "strokeDash": [1.6, 1.6], "strokeWidth": 1.4, "clip": true},
     "encoding": {"y": {"field": "lo", "type": "quantitative", "scale": {"domain": [50, 95], "nice": false, "zero": false}, "axis": {"title": "%", "titleX": -62, "values": [50,55,60,65,70,75,80,85,90,95]}},
      "color": {"field": "g", "type": "nominal", "scale": {"domain": ["c","f","n"], "range": ["#0000ff","#ff00ff","#0e8a36"]}}}},
    {"data": {"name": "ci"}, "transform": [{"filter": "datum.p == 6"}], "mark": {"type": "line", "strokeDash": [1.6, 1.6], "strokeWidth": 1.4, "clip": true},
     "encoding": {"y": {"field": "hi", "type": "quantitative", "scale": {"domain": [50, 95], "nice": false, "zero": false}, "axis": {"title": "%", "titleX": -62, "values": [50,55,60,65,70,75,80,85,90,95]}},
      "color": {"field": "g", "type": "nominal", "scale": {"domain": ["c","f","n"], "range": ["#0000ff","#ff00ff","#0e8a36"]}}}},
    {"data": {"name": "est"}, "transform": [{"filter": "datum.p == 6"}], "mark": {"type": "line", "strokeWidth": 1.6, "clip": true},
     "encoding": {"y": {"field": "v", "type": "quantitative", "scale": {"domain": [50, 95], "nice": false, "zero": false}, "axis": {"title": "%", "titleX": -62, "values": [50,55,60,65,70,75,80,85,90,95]}},
      "color": {"field": "g", "type": "nominal", "scale": {"domain": ["c","f","n"], "range": ["#0000ff","#ff00ff","#0e8a36"]}}}},
    {"data": {"name": "est"}, "transform": [{"filter": "datum.p == 6"}], "mark": {"type": "circle", "size": 38, "opacity": 1, "clip": true},
     "encoding": {"y": {"field": "v", "type": "quantitative", "scale": {"domain": [50, 95], "nice": false, "zero": false}, "axis": {"title": "%", "titleX": -62, "values": [50,55,60,65,70,75,80,85,90,95]}},
      "color": {"field": "g", "type": "nominal", "scale": {"domain": ["c","f","n"], "range": ["#0000ff","#ff00ff","#0e8a36"]}}}}
   ]}
],
"config": {
 "font": "Liberation Serif",
 "view": {"stroke": null},
 "title": {"font": "Liberation Serif", "fontSize": 28, "fontWeight": "normal", "color": "#333333", "baseline": "top", "offset": 0, "lineHeight": 30, "frame": "group"},
 "axis": {"domainColor": "#333333", "domainWidth": 1.5, "tickColor": "#333333", "tickWidth": 1.3, "labelFont": "Liberation Serif", "labelFontSize": 24, "labelColor": "#333333", "titleFont": "Liberation Serif", "titleFontSize": 25, "titleFontWeight": "normal", "titleColor": "#333333", "grid": false},
 "axisX": {"tickSize": 8, "labelAngle": -45, "labelAlign": "right", "labelBaseline": "middle", "labelPadding": 22, "labelDx": 2.3, "labelDy": 2.3, "labelOverlap": false, "labelFlush": false, "labelBound": false,
   "labelExpr": "datum.value < 86 && (datum.value - 44.5) % 6 == 0 ? '' + (datum.value + 0.5) : ''",
   "titleAlign": "right", "titleBaseline": "alphabetic", "titleY": 73, "titleAngle": 0},
 "axisY": {"tickSize": 12, "labelPadding": 6, "titleAngle": -90, "titleAlign": "center", "titleBaseline": "middle", "titleY": 229}
}
}
